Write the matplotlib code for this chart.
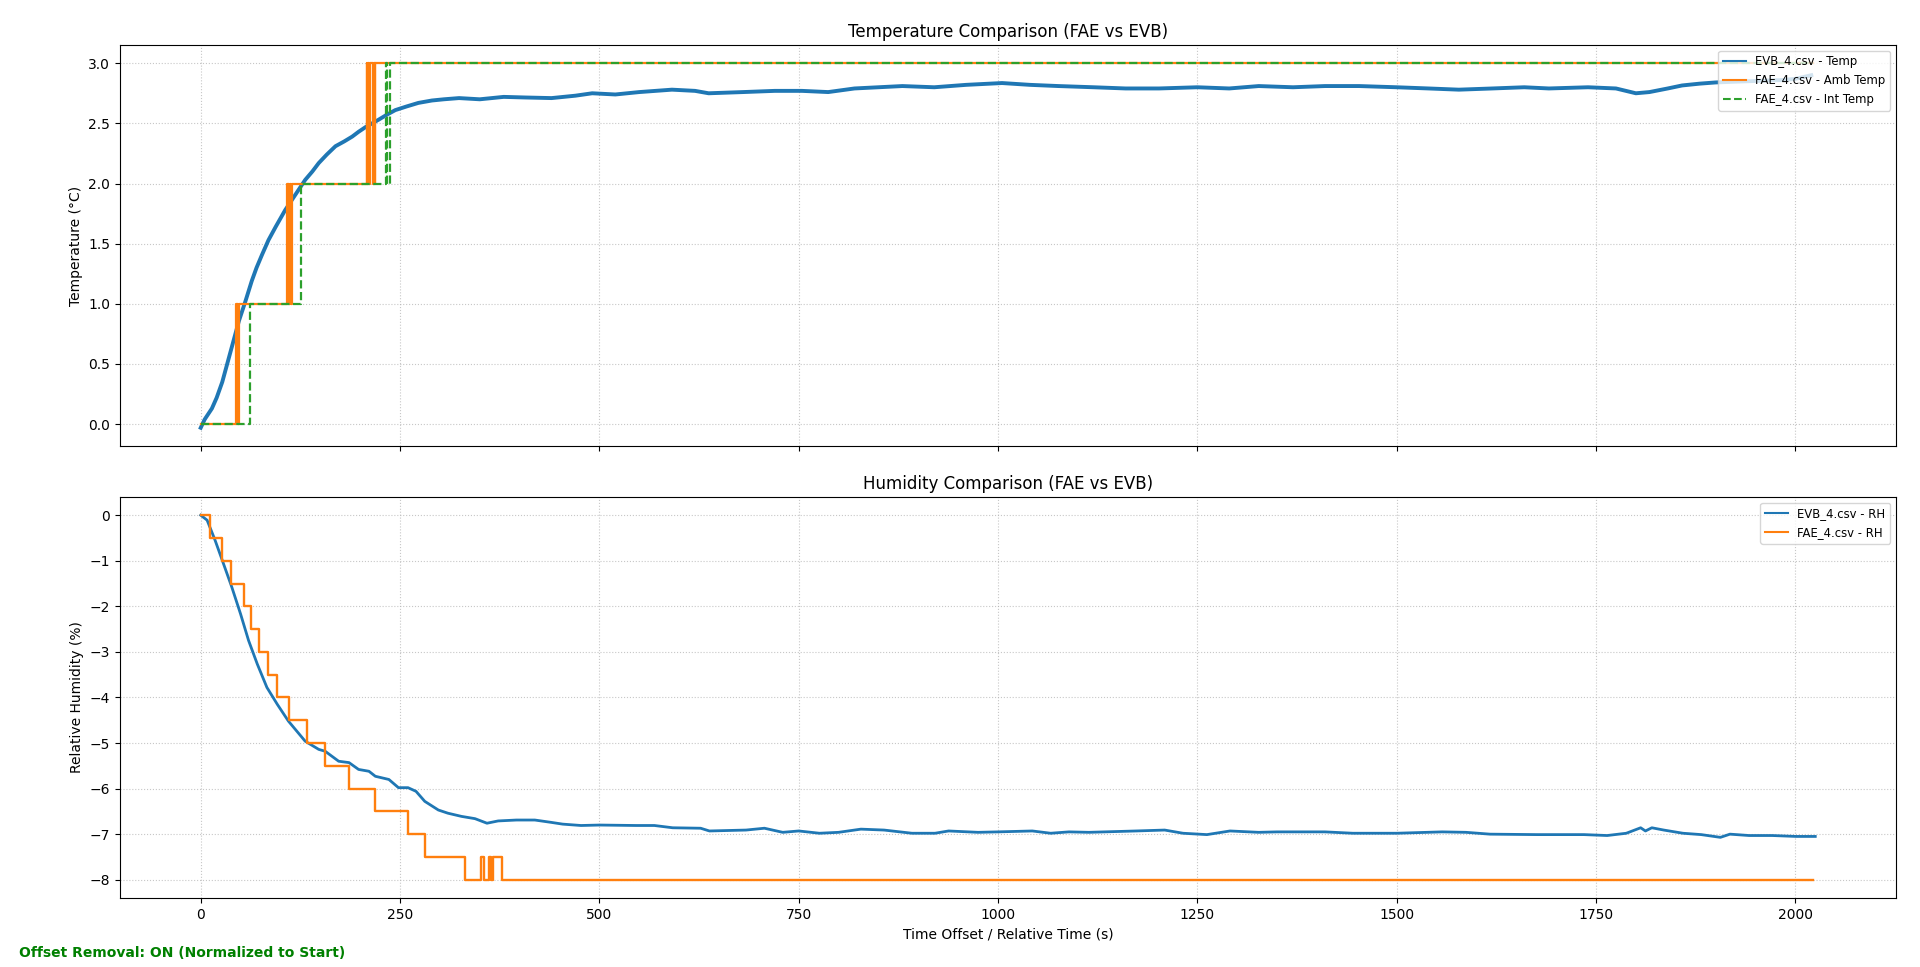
import matplotlib
matplotlib.use("Agg")
import matplotlib.pyplot as plt

# ---- Temperature (top) ----
evb_temp_t = [0, 5, 10, 14, 20, 27, 34, 41, 48, 56, 64, 70, 77, 85, 94, 100, 106, 112, 117, 124,
              131, 140, 148, 158, 169, 180, 190, 198, 207, 215, 223, 233, 244, 258, 273, 290, 305,
              324, 350, 380, 407, 440, 470, 491, 520, 550, 591, 620, 637, 680, 720, 754, 787, 820,
              850, 880, 920, 960, 1005, 1040, 1076, 1120, 1160, 1202, 1250, 1290, 1327, 1370, 1410,
              1453, 1500, 1540, 1578, 1620, 1660, 1691, 1740, 1775, 1800, 1817, 1840, 1858, 1880,
              1900, 1940, 1984, 2000, 2020]
evb_temp_v = [-0.03, 0.04, 0.09, 0.13, 0.22, 0.35, 0.52, 0.69, 0.86, 1.02, 1.19, 1.30, 1.41, 1.53, 1.64,
              1.71, 1.78, 1.84, 1.89, 1.96, 2.03, 2.10, 2.17, 2.24, 2.31, 2.35, 2.39, 2.43, 2.47, 2.50,
              2.53, 2.57, 2.61, 2.64, 2.67, 2.69, 2.70, 2.71, 2.70, 2.72, 2.715, 2.71, 2.73, 2.75, 2.74,
              2.76, 2.78, 2.77, 2.75, 2.76, 2.77, 2.77, 2.76, 2.79, 2.80, 2.81, 2.80, 2.82, 2.835, 2.82,
              2.81, 2.80, 2.79, 2.79, 2.80, 2.79, 2.81, 2.80, 2.81, 2.81, 2.80, 2.79, 2.78, 2.79, 2.80,
              2.79, 2.80, 2.79, 2.75, 2.76, 2.79, 2.815, 2.83, 2.84, 2.85, 2.86, 2.87, 2.90]

fae_amb_t = [0, 44, 45, 46, 47, 48, 108, 109, 110, 111, 112, 113, 114, 208, 209, 210, 211, 212,
             216, 217, 218, 219, 2022]
fae_amb_v = [0, 1, 0, 1, 0, 1, 2, 1, 2, 1, 2, 1, 2, 3, 2, 3, 2, 3,
             2, 3, 2, 3, 3]

fae_int_t = [0, 62, 126, 232, 234, 238, 2022]
fae_int_v = [0, 1, 2, 3, 2, 3, 3]

# ---- Humidity (bottom) ----
evb_rh_t = [0, 8, 18, 27, 39, 50, 60, 71, 83, 96, 110, 131, 148, 156, 173, 186, 198, 211, 219, 236,
            248, 260, 270, 281, 298, 310, 327, 344, 359, 373, 396, 419, 439, 454, 477, 500, 546, 569,
            592, 627, 638, 684, 707, 730, 750, 776, 800, 828, 857, 892, 921, 938, 975, 1000, 1043,
            1066, 1089, 1114, 1173, 1209, 1232, 1262, 1291, 1327, 1350, 1410, 1445, 1500, 1557, 1587,
            1617, 1676, 1735, 1764, 1788, 1806, 1812, 1820, 1835, 1859, 1882, 1906, 1918, 1942, 1971,
            2001, 2025]
evb_rh_v = [0, -0.11, -0.55, -0.99, -1.58, -2.17, -2.75, -3.27, -3.78, -4.15, -4.52, -4.96, -5.14,
            -5.18, -5.40, -5.43, -5.58, -5.62, -5.73, -5.80, -5.98, -5.98, -6.06, -6.28, -6.47, -6.54,
            -6.61, -6.66, -6.76, -6.71, -6.69, -6.69, -6.74, -6.78, -6.81, -6.80, -6.81, -6.81, -6.86,
            -6.87, -6.93, -6.91, -6.87, -6.96, -6.93, -6.98, -6.96, -6.89, -6.91, -6.98, -6.98, -6.93,
            -6.96, -6.95, -6.93, -6.98, -6.95, -6.96, -6.93, -6.91, -6.98, -7.01, -6.93, -6.96, -6.95,
            -6.95, -6.98, -6.98, -6.95, -6.96, -7.00, -7.01, -7.01, -7.03, -6.98, -6.86, -6.93, -6.86,
            -6.91, -6.98, -7.01, -7.07, -7.00, -7.03, -7.03, -7.05, -7.05]

fae_rh_t = [0, 12, 27, 38.5, 54, 63, 73.6, 84.5, 96, 111, 133, 156, 186, 219, 260, 281, 331,
            352, 355, 361, 364, 366, 378, 2022]
fae_rh_v = [0, -0.5, -1.0, -1.5, -2.0, -2.5, -3.0, -3.5, -4.0, -4.5, -5.0, -5.5, -6.0, -6.5, -7.0,
            -7.5, -8.0, -7.5, -8.0, -7.5, -8.0, -7.5, -8.0, -8.0]

fig, (ax1, ax2) = plt.subplots(2, 1, sharex=True, figsize=(19.2, 9.67), dpi=100)
fig.subplots_adjust(left=0.0625, right=0.9875, top=0.9535, bottom=0.0714, hspace=0.127)

ax1.plot(evb_temp_t, evb_temp_v, color="#1f77b4", lw=2.8, label="EVB_4.csv - Temp")
ax1.step(fae_amb_t, fae_amb_v, where="post", color="#ff7f0e", lw=1.6, label="FAE_4.csv - Amb Temp")
ax1.step(fae_int_t, fae_int_v, where="post", color="#2ca02c", lw=1.6, ls="--", label="FAE_4.csv - Int Temp")
ax1.set_title("Temperature Comparison (FAE vs EVB)", fontsize=12)
ax1.set_ylabel("Temperature (°C)")
ax1.grid(True, linestyle=":", alpha=0.7)
leg1 = ax1.legend(loc="upper right", fontsize="small")
for h in leg1.get_lines():
    h.set_linewidth(1.5)

ax2.plot(evb_rh_t, evb_rh_v, color="#1f77b4", lw=2.0, label="EVB_4.csv - RH")
ax2.step(fae_rh_t, fae_rh_v, where="post", color="#ff7f0e", lw=1.7, label="FAE_4.csv - RH")
ax2.set_title("Humidity Comparison (FAE vs EVB)", fontsize=12)
ax2.set_ylabel("Relative Humidity (%)")
ax2.set_xlabel("Time Offset / Relative Time (s)")
ax2.grid(True, linestyle=":", alpha=0.7)
leg2 = ax2.legend(loc="upper right", fontsize="small")
for h in leg2.get_lines():
    h.set_linewidth(1.5)

fig.text(0.01, 0.01, "Offset Removal: ON (Normalized to Start)", color="green",
         fontweight="bold", fontsize=10)

fig.savefig("out.png", dpi=100)
